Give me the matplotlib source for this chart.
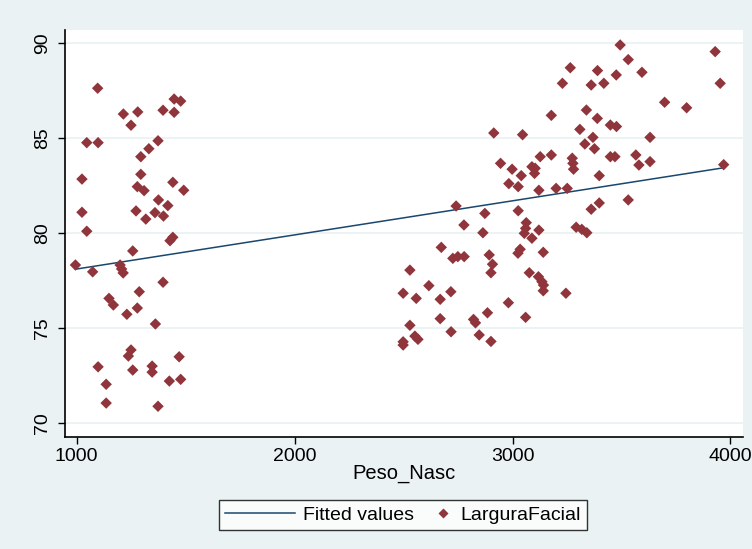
import numpy as np
import matplotlib.pyplot as plt
from matplotlib.lines import Line2D
from matplotlib.legend_handler import HandlerLine2D

plt.rcParams['font.family'] = ['Liberation Sans Narrow', 'Liberation Sans', 'DejaVu Sans']

# Peso_Nasc (x) / LarguraFacial (y)
peso = [1096, 1214, 1280, 1249, 1396, 1447, 1477, 1447, 1046, 1098,
        1373, 1331, 1294, 1024, 1294, 1278, 1309, 1441, 1491, 1375,
        1418, 1024, 1272, 1317, 1359, 1398, 1046, 1441, 1428, 1257,
        994, 1073, 1199, 1206, 1213, 1396, 1287, 1148, 1168, 1278,
        1230, 1361, 1249, 1237, 1098, 1257, 1346, 1346, 1470, 1135,
        1425, 1477, 1135, 1373,
        3494, 3531, 3930, 3265, 3390, 3476, 3594, 3229, 3361, 3419,
        3953, 3698, 3799, 3178, 3339, 3389, 3449, 3477, 2914, 3046,
        3309, 3369, 3332, 3376, 3631, 3449, 3470, 3566, 3580, 3631,
        3127, 3178, 3274, 3277, 3280, 2945, 2998, 3089, 3104, 3101,
        3040, 3398, 3969, 2983, 3026, 3121, 3200, 3251, 3398, 3531,
        3361, 2873, 3026, 2741, 3063, 3060, 3054, 3121, 2864, 3292,
        3318, 3341, 3089, 2777, 2673, 2726, 2749, 2778, 2893, 2908,
        2901, 3035, 3025, 3141, 2529, 3077, 3119, 3135, 3142, 3141,
        2616, 2498, 2558, 2668, 2717, 2981, 3245, 2885, 2668, 2821,
        2830, 3060, 2529, 2718, 2847, 2901, 2498, 2498, 2552, 2566]
largura = [87.64, 86.28, 86.39, 85.69, 86.48, 87.07, 86.96, 86.37, 84.77, 84.77,
           84.87, 84.45, 84.03, 82.85, 83.10, 82.45, 82.24, 82.68, 82.26, 81.75,
           81.45, 81.10, 81.17, 80.74, 81.08, 80.90, 80.10, 79.78, 79.60, 79.06,
           78.32, 77.96, 78.32, 78.11, 77.90, 77.41, 76.91, 76.56, 76.21, 76.05,
           75.72, 75.21, 73.84, 73.52, 72.95, 72.78, 72.99, 72.67, 73.48, 72.03,
           72.20, 72.29, 71.04, 70.87,
           89.92, 89.15, 89.57, 88.72, 88.57, 88.34, 88.48, 87.90, 87.81, 87.90,
           87.90, 86.90, 86.61, 86.21, 86.49, 86.05, 85.70, 85.62, 85.28, 85.19,
           85.47, 85.05, 84.70, 84.45, 85.05, 84.03, 84.03, 84.12, 83.59, 83.77,
           84.03, 84.12, 83.95, 83.68, 83.37, 83.68, 83.37, 83.50, 83.42, 83.15,
           83.03, 83.03, 83.61, 82.61, 82.45, 82.26, 82.36, 82.36, 81.59, 81.75,
           81.26, 81.04, 81.18, 81.43, 80.55, 80.25, 79.99, 80.16, 80.02, 80.31,
           80.20, 80.02, 79.73, 80.43, 79.25, 78.67, 78.76, 78.76, 78.85, 78.36,
           77.91, 79.15, 78.94, 78.99, 78.05, 77.91, 77.70, 77.44, 77.26, 76.96,
           77.23, 76.83, 76.56, 76.51, 76.91, 76.33, 76.83, 75.80, 75.49, 75.45,
           75.27, 75.56, 75.14, 74.80, 74.63, 74.29, 74.27, 74.10, 74.57, 74.40]

xticks = [1000, 2000, 3000, 4000]
yticks = [70, 75, 80, 85, 90]

x = np.array(peso)
y = np.array(largura)
b, a = np.polyfit(x, y, 1)
xs = np.sort(x)

navy = '#1a476f'
maroon = '#90353b'
bg = '#eaf2f3'


# legend marker sits at the right end of its handle box (stata look)
class RightMarker(HandlerLine2D):
    def get_xdata(self, legend, xdescent, ydescent, width, height, fontsize):
        m = width - 0.5 * fontsize - xdescent
        return np.array([m - 1, m + 1]), np.array([m])


fig = plt.figure(figsize=(7.52, 5.49), dpi=100, facecolor=bg)
ax = fig.add_axes([0.0864, 0.204, 0.902, 0.741])
ax.set_facecolor('white')

for t in yticks:
    ax.axhline(t, color=bg, lw=1.3, zorder=0)

fit, = ax.plot(xs, a + b * xs, color=navy, lw=1.1, label='Fitted values', zorder=2)
ax.scatter(x, y, marker='D', s=34, color=maroon, edgecolors='none', zorder=3)

ax.set_xlim(946, 4059)
ax.set_ylim(69.25, 90.7)
ax.set_xticks(xticks)
ax.set_yticks(yticks)
ax.tick_params(axis='y', labelrotation=90, labelsize=14, length=5, width=1, pad=5)
ax.tick_params(axis='x', labelsize=14, length=5, width=1, pad=3)
for lab in ax.get_yticklabels():
    lab.set_va('center')
for s in ['top', 'right']:
    ax.spines[s].set_visible(False)
for s in ['left', 'bottom']:
    ax.spines[s].set_linewidth(1.2)

ax.set_xlabel('Peso_Nasc', fontsize=14.5, labelpad=-1)

dot = Line2D([], [], marker='D', ms=5, ls='none', color=maroon, mec='none',
             label='LarguraFacial')
leg = fig.legend(handles=[fit, dot], loc='center', bbox_to_anchor=(0.536, 0.062),
                 ncol=2, fontsize=14, frameon=True, fancybox=False,
                 edgecolor='black', handlelength=3.6, columnspacing=-1.6,
                 handletextpad=0.4, borderpad=0.3,
                 handler_map={dot: RightMarker(numpoints=1)})
leg.get_frame().set_linewidth(1.0)

fig.savefig('out.png', dpi=100, facecolor=bg)
